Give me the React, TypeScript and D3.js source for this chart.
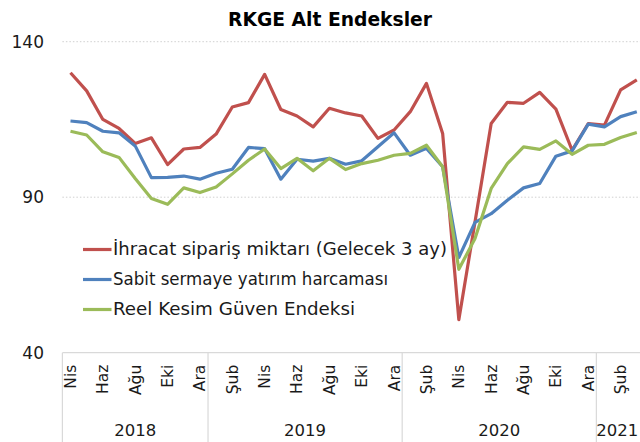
import React from "react";
import * as d3 from "d3";

const months = [
  "Nis","May","Haz","Tem","Ağu","Eyl","Eki","Kas","Ara",
  "Oca","Şub","Mar","Nis","May","Haz","Tem","Ağu","Eyl","Eki","Kas","Ara",
  "Oca","Şub","Mar","Nis","May","Haz","Tem","Ağu","Eyl","Eki","Kas","Ara",
  "Oca","Şub","Mar",
];
const years = ["2018", "2019", "2020", "2021"];
const yearMonthCounts = [9, 12, 12, 3];
const yTicks = [40, 90, 140];

const ihracat = [
  130.0, 124.2, 115.0, 112.1, 107.3, 109.1, 100.5, 105.5, 106.0,
  110.3, 119.0, 120.4, 129.5, 118.2, 116.1, 112.6, 118.6, 117.1, 116.1, 108.9, 111.6,
  117.5, 126.6, 110.5, 50.6, 82.0, 113.7, 120.5, 120.2, 123.7, 118.3, 105.1, 113.7,
  113.2, 124.5, 127.7,
];
const sabit = [
  114.5, 114.0, 111.2, 110.7, 106.5, 96.3, 96.4, 96.8, 95.8,
  97.7, 99.0, 106.0, 105.6, 95.8, 102.2, 101.6, 102.5, 100.6, 101.7, 106.2, 110.7,
  103.5, 105.7, 99.8, 70.6, 81.9, 84.7, 89.0, 93.0, 94.4, 103.2, 104.9, 113.5,
  112.6, 115.9, 117.5,
];
const reel = [
  111.2, 110.0, 104.6, 102.8, 96.0, 89.6, 87.7, 93.0, 91.5,
  93.3, 97.5, 101.9, 105.5, 99.2, 102.5, 98.5, 102.5, 98.9, 100.8, 101.9, 103.5,
  104.1, 106.7, 99.8, 66.8, 76.7, 92.8, 100.8, 106.2, 105.4, 108.1, 103.8, 106.7,
  107.0, 109.2, 110.8,
];

const seriesNames = [
  "İhracat sipariş miktarı (Gelecek 3 ay)",
  "Sabit sermaye yatırım harcaması",
  "Reel Kesim Güven Endeksi",
];
const seriesColors = ["#C0504D", "#4F81BD", "#9BBB59"];
const seriesData = [ihracat, sabit, reel];

const W = 640;
const H = 442;
const FONT = "'DejaVu Sans', sans-serif";
const LEGEND_TEXT_WIDTHS = [334, 275, 242];

export default function App() {
  const left = 62.4;
  const right = 644.9;
  const top = 41.7;
  const bottom = 352.7;

  const x = d3
    .scaleBand<number>()
    .domain(months.map((_, i) => i))
    .range([left, right])
    .padding(0);
  const bw = x.bandwidth();
  const cx = (i: number) => (x(i) as number) + bw / 2;
  const y = d3.scaleLinear().domain([40, 140]).range([bottom, top]);

  const line = d3
    .line<number>()
    .x((_, i) => cx(i))
    .y((d) => y(d));

  const bounds: number[] = [0];
  yearMonthCounts.forEach((c, k) => bounds.push(bounds[k] + c));

  return (
    <svg
      width={W}
      height={H}
      style={{ position: "absolute", left: 0, top: 0, background: "#fff" }}
      fontFamily={FONT}
    >
      <rect x={0} y={0} width={W} height={H} fill="#fff" />
      <text
        x={330}
        y={26}
        textAnchor="middle"
        fontSize={19.5}
        fontWeight="bold"
        fill="#000"
        textLength={204}
        lengthAdjust="spacingAndGlyphs"
      >
        RKGE Alt Endeksler
      </text>

      {yTicks
        .filter((t) => t !== 40)
        .map((t) => (
          <line
            key={t}
            x1={left}
            x2={W}
            y1={y(t)}
            y2={y(t)}
            stroke="#D0D0D0"
            strokeWidth={1}
            strokeDasharray="1.5 2"
          />
        ))}
      <line x1={left} x2={W} y1={bottom} y2={bottom} stroke="#D9D9D9" strokeWidth={1.2} />

      {yTicks.map((t) => (
        <text
          key={t}
          x={44}
          y={y(t)}
          dy="0.35em"
          textAnchor="end"
          fontSize={17}
          fill="#1a1a1a"
        >
          {t}
        </text>
      ))}

      {bounds.slice(0, bounds.length - 1).map((b, k) => (
        <line
          key={"sep" + k}
          x1={x(b) as number}
          x2={x(b) as number}
          y1={bottom}
          y2={H}
          stroke="#D9D9D9"
          strokeWidth={1.2}
        />
      ))}

      {months.map((m, i) =>
        i % 2 === 0 ? (
          <text
            key={"m" + i}
            transform={`translate(${cx(i)},${bottom + 12}) rotate(-90)`}
            dy="0.35em"
            textAnchor="end"
            fontSize={15.5}
            fill="#1a1a1a"
          >
            {m}
          </text>
        ) : null
      )}

      {years.map((yr, k) => {
        const x0 = x(bounds[k]) as number;
        const x1 = Math.min(
          bounds[k + 1] < months.length ? (x(bounds[k + 1]) as number) : right,
          638
        );
        return (
          <text
            key={yr}
            x={(x0 + x1) / 2}
            y={436}
            textAnchor="middle"
            fontSize={16.5}
            fill="#1a1a1a"
          >
            {yr}
          </text>
        );
      })}

      {seriesData.map((d, k) => (
        <path
          key={"s" + k}
          d={line(d) as string}
          fill="none"
          stroke={seriesColors[k]}
          strokeWidth={3.2}
          strokeLinejoin="round"
        />
      ))}

      {seriesNames.map((n, k) => {
        const ly = 249.5 + k * 30;
        return (
          <g key={"lg" + k}>
            <line
              x1={83}
              x2={111.5}
              y1={ly}
              y2={ly}
              stroke={seriesColors[k]}
              strokeWidth={3.2}
            />
            <text
              x={113}
              y={ly}
              dy="0.35em"
              fontSize={17}
              textLength={LEGEND_TEXT_WIDTHS[k]}
              lengthAdjust="spacingAndGlyphs"
              fill="#1a1a1a"
            >
              {n}
            </text>
          </g>
        );
      })}
    </svg>
  );
}
